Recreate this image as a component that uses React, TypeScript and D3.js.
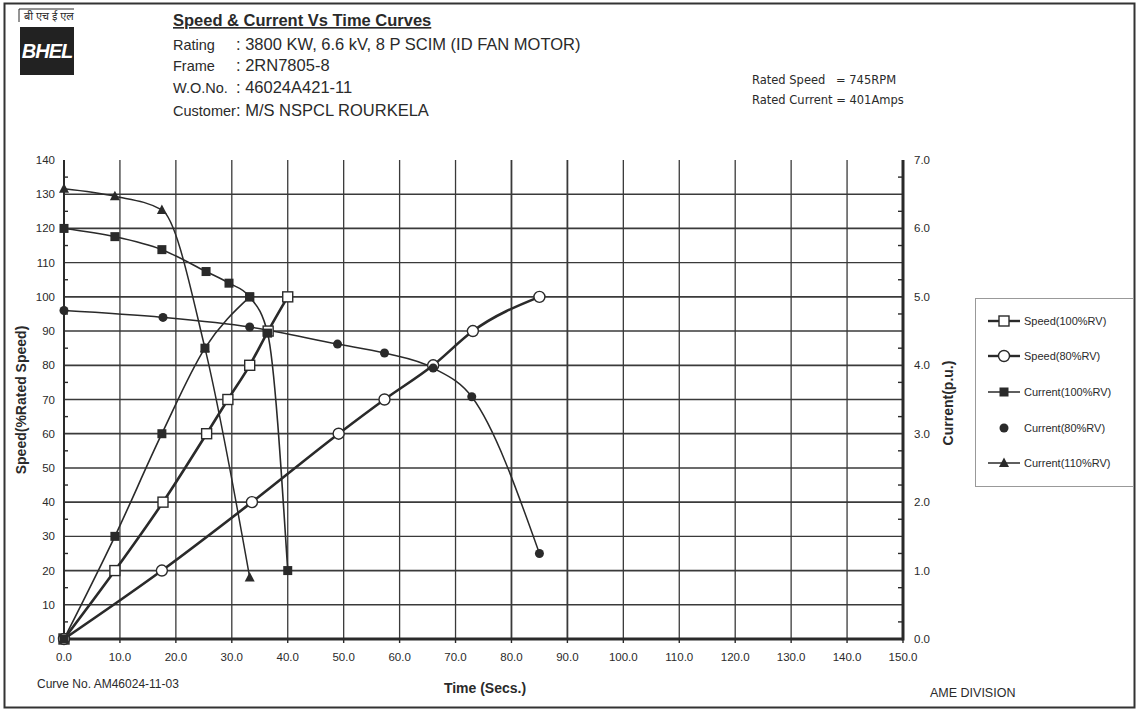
import React from 'react';
import * as d3 from 'd3';

// time axis (secs)
const timeTicks = d3.range(0, 151, 10);
const speedTicks = d3.range(0, 141, 10);
const currentTicks = d3.range(0, 7.01, 1);

// Speed (% rated speed) vs time
const speed100T = [0, 9.1, 17.7, 25.5, 29.3, 33.2, 36.5, 40];
const speed100V = [0, 20, 40, 60, 70, 80, 90, 100];

const speed80T = [0, 17.5, 33.6, 49.1, 57.3, 66, 73.1, 85];
const speed80V = [0, 20, 40, 60, 70, 80, 90, 100];

// rising filled-square curve (not in legend)
const speed110T = [0, 9.1, 17.5, 25.2, 33.2];
const speed110V = [0, 30, 60, 85, 100];

// Current (p.u.) vs time
const current100T = [0, 9.1, 17.5, 25.4, 29.5, 33.2, 36.4, 40];
const current100V = [6.0, 5.88, 5.69, 5.37, 5.2, 5.0, 4.47, 1.0];

const current80T = [0, 17.7, 33.2, 48.9, 57.3, 66, 72.9, 85];
const current80V = [4.8, 4.7, 4.56, 4.31, 4.18, 3.96, 3.54, 1.25];

const current110T = [0, 9.1, 17.5, 25.2, 33.2];
const current110V = [6.58, 6.47, 6.27, 4.25, 0.9];

const legendNames = ['Speed(100%RV)', 'Speed(80%RV)', 'Current(100%RV)', 'Current(80%RV)', 'Current(110%RV)'];

const headerLabels = ['Rating', 'Frame', 'W.O.No.', 'Customer'];
const headerValues = [': 3800 KW, 6.6 kV, 8 P SCIM (ID FAN MOTOR)', ': 2RN7805-8', ': 46024A421-11', ': M/S NSPCL ROURKELA'];

const INK = '#2a2a2a';

const x = d3.scaleLinear().domain([0, 150]).range([64, 903]);
const yL = d3.scaleLinear().domain([0, 140]).range([639, 160]);
const yR = d3.scaleLinear().domain([0, 7]).range([639, 160]);

type Marker = 'openSquare' | 'openCircle' | 'square' | 'dot' | 'triangle';

const series = [
  { key: 's100', t: speed100T, v: speed100V, y: yL, marker: 'openSquare' as Marker, w: 2.6 },
  { key: 's80', t: speed80T, v: speed80V, y: yL, marker: 'openCircle' as Marker, w: 2.6 },
  { key: 's110', t: speed110T, v: speed110V, y: yL, marker: 'square' as Marker, w: 1.6 },
  { key: 'c100', t: current100T, v: current100V, y: yR, marker: 'square' as Marker, w: 1.6 },
  { key: 'c80', t: current80T, v: current80V, y: yR, marker: 'dot' as Marker, w: 1.5 },
  { key: 'c110', t: current110T, v: current110V, y: yR, marker: 'triangle' as Marker, w: 1.5 },
];

const legendMarkers: Marker[] = ['openSquare', 'openCircle', 'square', 'dot', 'triangle'];

function drawMarker(m: Marker, cx: number, cy: number, k: string | number) {
  if (m === 'openSquare') return <rect key={k} x={cx - 5} y={cy - 5} width={10} height={10} fill="#fff" stroke={INK} strokeWidth={1.4} />;
  if (m === 'openCircle') return <circle key={k} cx={cx} cy={cy} r={5.5} fill="#fff" stroke={INK} strokeWidth={1.4} />;
  if (m === 'square') return <rect key={k} x={cx - 4.5} y={cy - 4.5} width={9} height={9} fill={INK} />;
  if (m === 'dot') return <circle key={k} cx={cx} cy={cy} r={4.5} fill={INK} />;
  return <path key={k} d={`M${cx},${cy - 5.5}L${cx + 5},${cy + 4}L${cx - 5},${cy + 4}Z`} fill={INK} />;
}

export default function App() {
  const line = (s: typeof series[number]) =>
    d3.line<number>()
      .x((_, i) => x(s.t[i]))
      .y((d) => s.y(d))
      .curve(d3.curveMonotoneX)(s.v) || '';

  const legendY = [321, 356, 392, 428, 463];
  const headerY = [50, 71, 93, 116];

  return (
    <svg width={1138} height={711} style={{ position: 'absolute', left: 0, top: 0, background: '#fff' }}
      fontFamily="'Liberation Sans', Arial, sans-serif">
      <rect x={0} y={0} width={1138} height={711} fill="#fff" />
      <rect x={4.5} y={3.5} width={1130} height={704} fill="none" stroke="#333" strokeWidth={2} />

      {/* logo */}
      <g>
        <path d="M19,22 L19,9 L74,9" fill="none" stroke={INK} strokeWidth={1} />
        <text x={24} y={20} fontSize={11} fontStyle="italic" fill={INK} fontFamily="'Noto Sans', 'DejaVu Sans', sans-serif">बी एच ई एल</text>
        <rect x={20} y={27} width={54} height={48} fill="#222" />
        <text x={47} y={58} fontSize={20} fontWeight="bold" fontStyle="italic" fill="#fff" textAnchor="middle"
          letterSpacing={-1}>BHEL</text>
      </g>

      {/* header */}
      <text x={173} y={26} fontSize={16.5} fontWeight="bold" fill={INK} textDecoration="underline">Speed &amp; Current Vs Time Curves</text>
      {headerLabels.map((a, i) => (
        <g key={a} fill={INK}>
          <text x={173} y={headerY[i]} fontSize={14.5}>{a}</text>
          <text x={236} y={headerY[i]} fontSize={16.5}>{headerValues[i]}</text>
        </g>
      ))}
      <g fontFamily="'DejaVu Sans', Verdana, sans-serif" fontSize={11.5} fill={INK}>
        <text x={752} y={84}>Rated Speed</text>
        <text x={836} y={84}>= 745RPM</text>
        <text x={752} y={104}>Rated Current = 401Amps</text>
      </g>

      {/* grid */}
      <g stroke="#3a3a3a">
        {speedTicks.filter(d => d > 0 && d < 140).map(d => (
          <line key={'h' + d} x1={x(0)} x2={x(150)} y1={yL(d)} y2={yL(d)} strokeWidth={d % 20 === 0 ? 1.8 : 1.4} />
        ))}
        {timeTicks.filter(d => d > 0 && d < 150).map(d => (
          <line key={'v' + d} x1={x(d)} x2={x(d)} y1={yL(140)} y2={yL(0)} strokeWidth={d === 80 || d === 90 ? 1.8 : 1.3} />
        ))}
      </g>
      {/* axes */}
      <line x1={x(0)} x2={x(0)} y1={yL(140)} y2={yL(0)} stroke={INK} strokeWidth={2} />
      <line x1={x(150)} x2={x(150)} y1={yL(140)} y2={yL(0) + 1.5} stroke={INK} strokeWidth={3} />
      <line x1={x(0)} x2={x(150)} y1={yL(0)} y2={yL(0)} stroke={INK} strokeWidth={3} />
      <g stroke={INK} strokeWidth={1.4}>
        {d3.range(5, 140, 10).map(d => <line key={'ml' + d} x1={x(0)} x2={x(0) + 4} y1={yL(d)} y2={yL(d)} />)}
        {d3.range(0.25, 7, 0.5).map(d => <line key={'mr' + d} x1={x(150) - 5} x2={x(150)} y1={yR(d)} y2={yR(d)} />)}
        {timeTicks.map(d => <line key={'mb' + d} x1={x(d)} x2={x(d)} y1={yL(0)} y2={yL(0) + 4} />)}
      </g>

      {/* tick labels */}
      <g fontSize={11.5} fill={INK}>
        {speedTicks.map(d => <text key={'tl' + d} x={55} y={yL(d)} dy="0.35em" textAnchor="end">{d}</text>)}
        {currentTicks.map(d => <text key={'tr' + d} x={914} y={yR(d)} dy="0.35em">{d.toFixed(1)}</text>)}
        {timeTicks.map(d => <text key={'tb' + d} x={x(d)} y={661} textAnchor="middle">{d.toFixed(1)}</text>)}
      </g>

      {/* axis titles */}
      <text transform={`translate(26,400) rotate(-90)`} textAnchor="middle" fontSize={14} fontWeight="bold" fill={INK}>Speed(%Rated Speed)</text>
      <text transform={`translate(953,403) rotate(-90)`} textAnchor="middle" fontSize={14} fontWeight="bold" fill={INK}>Current(p.u.)</text>
      <text x={485} y={693} textAnchor="middle" fontSize={14} fontWeight="bold" fill={INK}>Time (Secs.)</text>
      <text x={37} y={688} fontSize={12} fill={INK}>Curve No. AM46024-11-03</text>
      <text x={930} y={697} fontSize={12.5} fill={INK}>AME DIVISION</text>

      {/* curves */}
      {series.map(s => (
        <path key={s.key} d={line(s)} fill="none" stroke={INK} strokeWidth={s.w} />
      ))}
      {series.map(s => s.v.map((v, i) => drawMarker(s.marker, x(s.t[i]), s.y(v), s.key + i)))}

      {/* legend */}
      <rect x={975.5} y={298.5} width={158} height={188} fill="#fff" stroke="#999" strokeWidth={1} />
      {legendNames.map((n, i) => (
        <g key={n}>
          {legendMarkers[i] !== 'dot' && (
            <line x1={988} x2={1020} y1={legendY[i]} y2={legendY[i]} stroke={INK} strokeWidth={i < 2 ? 2.4 : 1.5} />
          )}
          {drawMarker(legendMarkers[i], 1004, legendY[i], 'lm' + i)}
          <text x={1024} y={legendY[i]} dy="0.35em" fontSize={11} fill={INK}>{n}</text>
        </g>
      ))}
    </svg>
  );
}
